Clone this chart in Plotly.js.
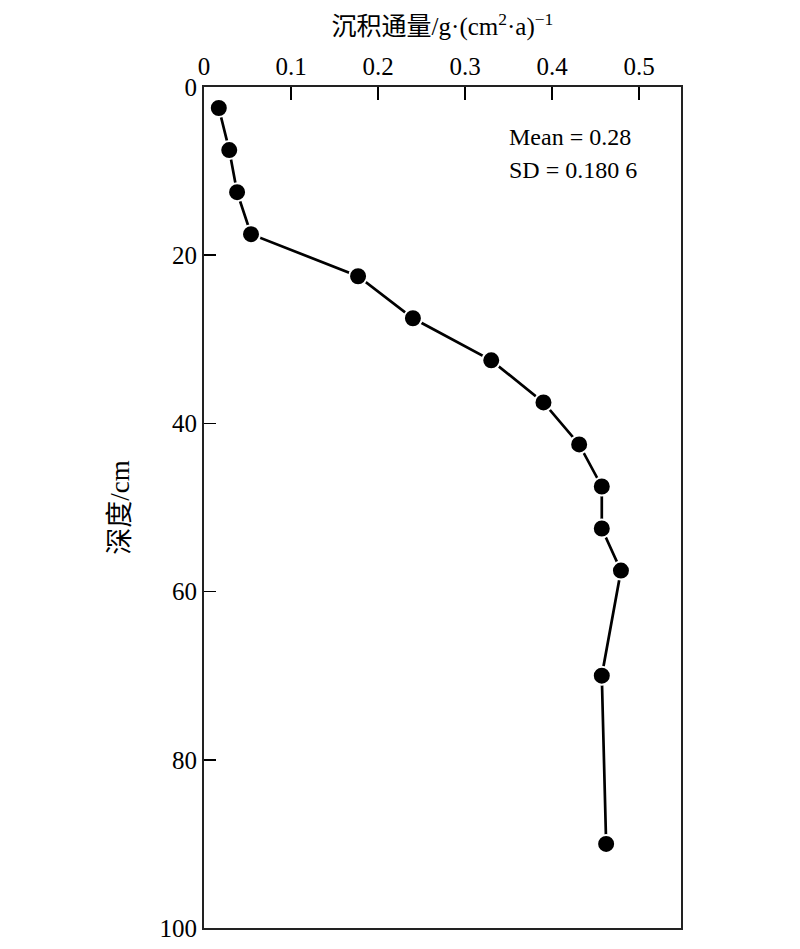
<!DOCTYPE html>
<html><head><meta charset="utf-8">
<script src="https://cdn.plot.ly/plotly-3.0.1.min.js"></script>
<style>html,body{margin:0;padding:0;background:#fff}</style>
</head><body>
<div id="chart" style="width:800px;height:949px"></div>
<script>
const flux = [0.017, 0.029, 0.038, 0.054, 0.177, 0.240, 0.330, 0.390, 0.431, 0.457, 0.457, 0.479, 0.457, 0.462];
const depth = [2.5, 7.5, 12.5, 17.5, 22.5, 27.5, 32.5, 37.5, 42.5, 47.5, 52.5, 57.5, 70, 90];
const xTicks = [0, 0.1, 0.2, 0.3, 0.4, 0.5];
const xTickText = ['0', '0.1', '0.2', '0.3', '0.4', '0.5'];
const yTicks = [0, 20, 40, 60, 80, 100];
const statLines = ['Mean = 0.28', 'SD = 0.180 6'];

const fontFam = '"Liberation Serif", "Times New Roman", "Noto Sans CJK SC", serif';

const trace = {
  x: flux, y: depth, type: 'scatter', mode: 'lines+markers',
  line: {color: '#000', width: 2.7},
  marker: {color: '#000', size: 18, line: {color: '#fff', width: 2}},
  cliponaxis: false, hoverinfo: 'skip'
};

const layout = {
  width: 800, height: 949,
  margin: {l: 204, r: 119, t: 87, b: 21},
  paper_bgcolor: '#fff', plot_bgcolor: '#fff',
  showlegend: false,
  font: {family: fontFam, color: '#000', size: 25},
  xaxis: {
    side: 'top', range: [0, 0.548], tickvals: xTicks, ticktext: xTickText,
    ticks: 'inside', ticklen: 13, tickwidth: 1.5, tickcolor: '#000',
    showline: true, linecolor: '#222', linewidth: 2, mirror: true,
    showgrid: false, zeroline: false,
    tickfont: {family: fontFam, size: 25},
    title: {text: '沉积通量/g·(cm<sup>2</sup>·a)<sup>−1</sup>', font: {family: fontFam, size: 25}, standoff: 10}
  },
  yaxis: {
    range: [100, 0], tickvals: yTicks,
    ticks: 'inside', ticklen: 12, tickwidth: 1.5, tickcolor: '#000',
    showline: true, linecolor: '#222', linewidth: 2, mirror: true,
    showgrid: false, zeroline: false,
    tickfont: {family: fontFam, size: 25},
    title: {text: '深度/cm', font: {family: fontFam, size: 27}, standoff: 22}
  },
  annotations: statLines.map((t, i) => ({
    xref: 'paper', yref: 'paper', x: (507 - 204) / 477, y: 1 - (137 - 87 + i * 33) / 841,
    xanchor: 'left', yanchor: 'middle', text: t, showarrow: false,
    font: {family: fontFam, size: 24, color: '#000'}
  }))
};

Plotly.newPlot('chart', [trace], layout, {displayModeBar: false, staticPlot: true});
</script>
</body></html>
